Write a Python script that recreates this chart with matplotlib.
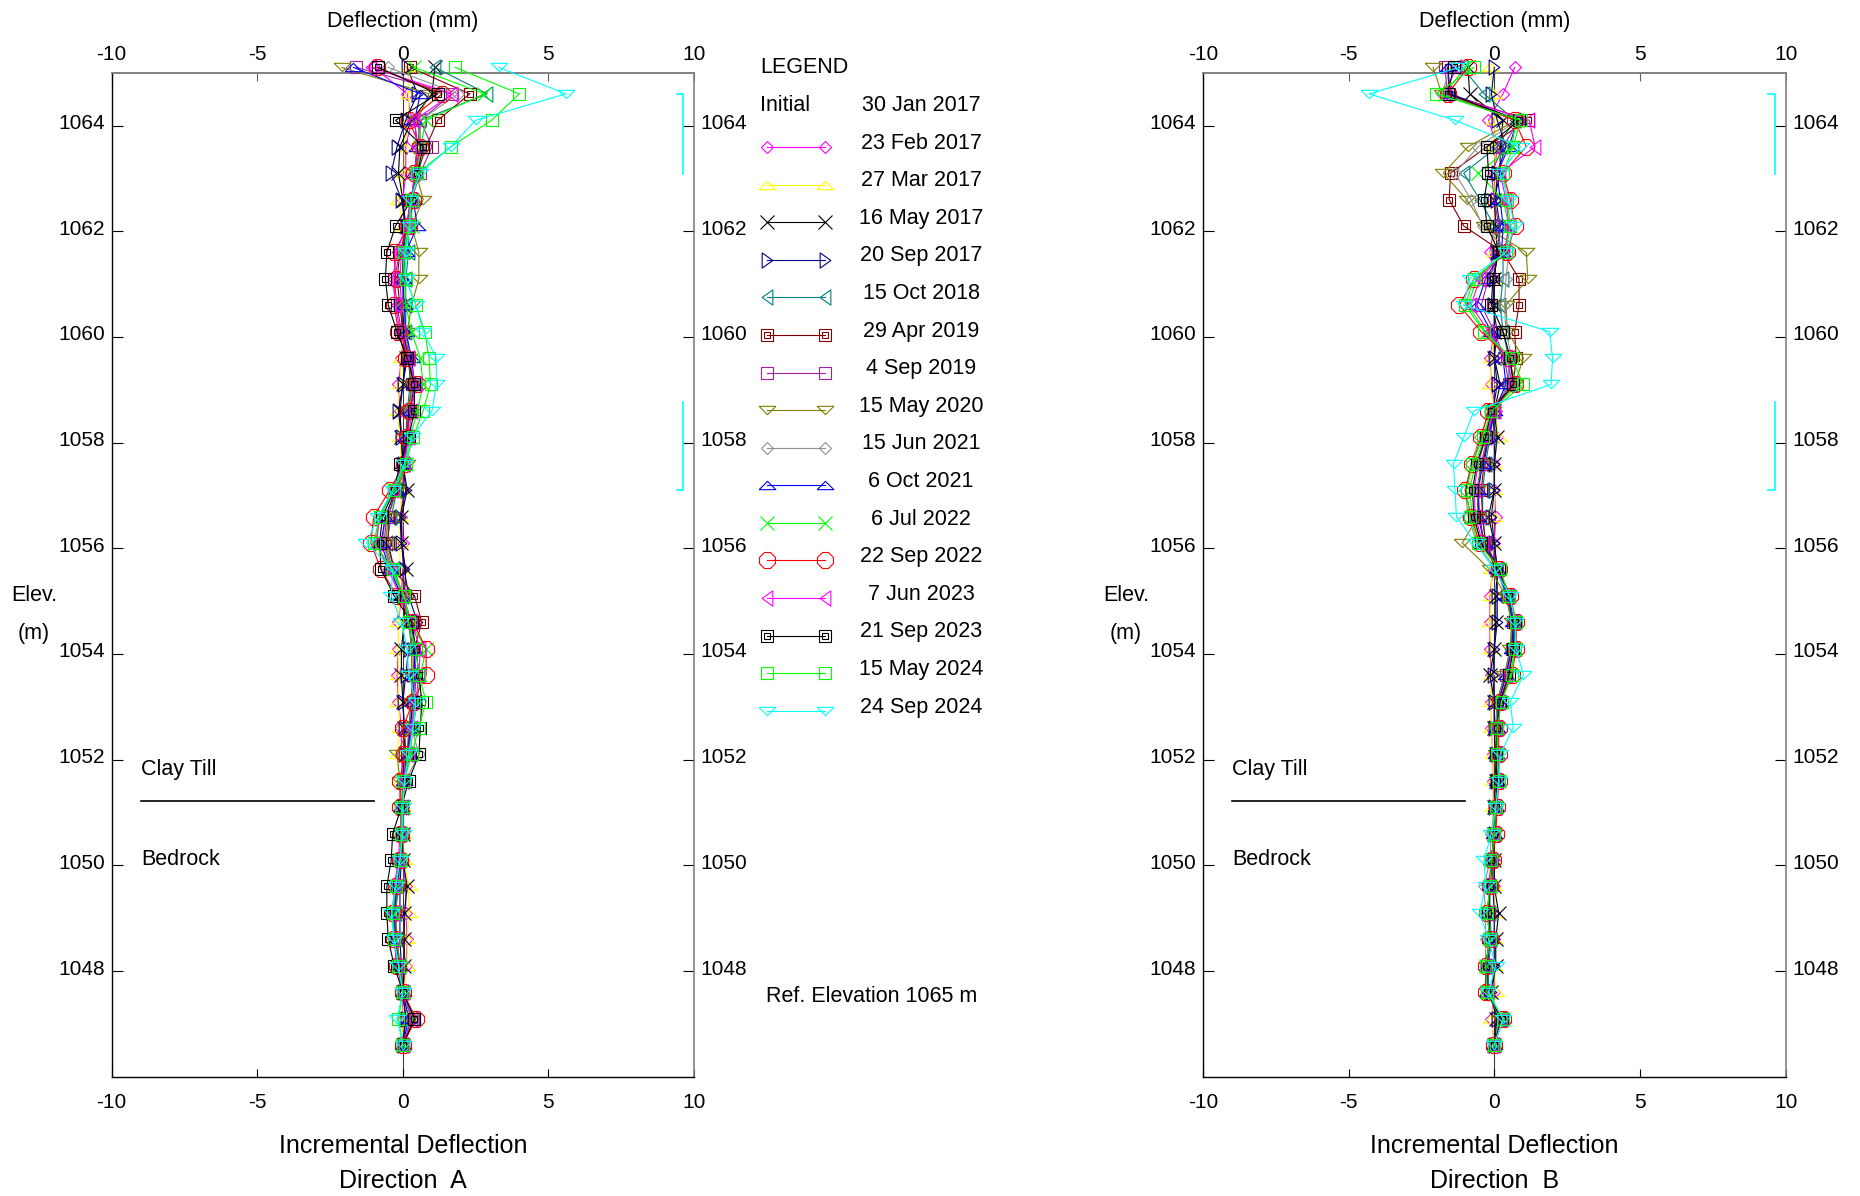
import matplotlib
matplotlib.use('Agg')
import matplotlib.pyplot as plt
from matplotlib.lines import Line2D
from matplotlib.transforms import ScaledTranslation

plt.rcParams['font.family'] = ['Liberation Sans', 'DejaVu Sans']

W, H = 1860, 1196

# reading elevations (m), top to bottom
ELEV = [1065.1, 1064.6, 1064.1, 1063.6, 1063.1, 1062.6, 1062.1, 1061.6, 1061.1, 1060.6,
        1060.1, 1059.6, 1059.1, 1058.6, 1058.1, 1057.6, 1057.1, 1056.6, 1056.1, 1055.6,
        1055.1, 1054.6, 1054.1, 1053.6, 1053.1, 1052.6, 1052.1, 1051.6, 1051.1, 1050.6,
        1050.1, 1049.6, 1049.1, 1048.6, 1048.1, 1047.6, 1047.1, 1046.6]

DATES = ['23 Feb 2017', '27 Mar 2017', '16 May 2017', '20 Sep 2017', '15 Oct 2018',
         '29 Apr 2019', '4 Sep 2019', '15 May 2020', '15 Jun 2021', '6 Oct 2021',
         '6 Jul 2022', '22 Sep 2022', '7 Jun 2023', '21 Sep 2023', '15 May 2024',
         '24 Sep 2024']
COLORS = ['#ff00ff', '#ffff00', '#000000', '#000080', '#008080',
          '#800000', '#a020a0', '#808000', '#909090', '#0000ff',
          '#00ff00', '#ff0000', '#ff00ff', '#000000', '#00ff00', '#00ffff']
MARKERS = ['D', 'up', 'x', 'right', 'left', 's', 's', 'down', 'D', 'up', 'x', '8',
           'left', 's', 's', 'down']
DOUBLE_SQUARE = ['29 Apr 2019', '21 Sep 2023']

XTICKS = [-10, -5, 0, 5, 10]
YTICKS = [1048, 1050, 1052, 1054, 1056, 1058, 1060, 1062, 1064]

# Direction A incremental deflection (mm)
a_feb17 = [-1.0, 0.15, 0.3, 0.1, 0.1, 0.0, 0.05, -0.05, -0.1, -0.05,
           0.0, -0.05, -0.15, -0.1, -0.05, 0.0, 0.0, -0.05, 0.0, 0.0,
           -0.05, -0.15, -0.15, -0.2, -0.15, -0.05, -0.05, 0.0, 0.0, 0.0,
           0.0, 0.1, 0.1, 0.15, 0.1, 0.0, 0.0, 0.0]
a_mar17 = [0.2, 0.2, 0.2, 0.05, 0.05, -0.15, 0.0, 0.0, 0.0, 0.0,
           0.0, -0.05, -0.1, -0.2, -0.1, -0.05, -0.05, -0.1, -0.1, -0.1,
           -0.1, -0.15, -0.15, -0.15, -0.15, -0.1, -0.2, -0.1, 0.0, 0.0,
           0.05, 0.2, 0.2, 0.15, 0.15, 0.05, 0.0, 0.0]
a_may17 = [1.1, 1.0, 0.3, -0.1, -0.15, 0.0, 0.1, 0.0, 0.0, 0.0,
           0.0, 0.1, 0.0, -0.1, -0.05, 0.0, 0.15, -0.05, -0.05, 0.1,
           0.05, 0.05, -0.05, -0.05, 0.0, 0.05, 0.1, 0.05, 0.0, 0.0,
           0.0, 0.15, 0.05, 0.05, 0.05, 0.0, 0.1, 0.0]
a_sep17 = [0.15, 0.5, 0.1, -0.2, -0.4, -0.05, 0.1, 0.05, 0.0, 0.0,
           0.05, 0.15, 0.0, -0.15, -0.05, 0.0, 0.1, -0.1, -0.05, 0.05,
           0.2, 0.5, 0.2, 0.1, 0.0, 0.05, 0.05, 0.0, 0.0, 0.0,
           -0.05, -0.1, -0.1, -0.1, -0.05, 0.0, 0.1, 0.0]
a_oct18 = [1.1, 2.9, 0.6, 0.5, 0.4, 0.3, 0.2, 0.2, 0.1, 0.1,
           0.1, 0.2, 0.25, 0.15, 0.1, 0.05, -0.2, -0.4, -0.55, -0.3,
           0.0, 0.2, 0.3, 0.3, 0.3, 0.2, 0.15, 0.05, 0.0, -0.05,
           -0.1, -0.15, -0.25, -0.2, -0.1, 0.0, 0.3, 0.0]
a_apr19 = [0.25, 2.3, 1.2, 0.8, 0.5, 0.25, 0.15, -0.1, -0.2, -0.1,
           0.0, 0.2, 0.3, 0.2, 0.1, 0.0, -0.25, -0.5, -0.5, -0.3,
           0.4, 0.65, 0.4, 0.35, 0.35, 0.25, 0.15, 0.05, -0.05, -0.05,
           -0.1, -0.2, -0.3, -0.25, -0.15, 0.0, 0.4, 0.0]
a_sep19 = [-1.6, 1.7, 0.6, 1.0, 0.6, 0.3, 0.2, -0.1, -0.3, -0.2,
           -0.05, 0.15, 0.35, 0.25, 0.15, 0.0, -0.3, -0.55, -0.65, -0.4,
           0.0, 0.3, 0.4, 0.45, 0.4, 0.3, 0.2, 0.05, -0.05, -0.05,
           -0.1, -0.25, -0.3, -0.25, -0.15, 0.0, 0.35, 0.0]
a_may20 = [-2.1, 0.9, 0.5, 0.6, 0.45, 0.7, 0.3, 0.55, 0.55, 0.3,
           0.15, 0.2, 0.3, 0.2, 0.1, 0.15, -0.2, -0.5, -0.6, -0.35,
           0.0, 0.25, 0.3, 0.3, 0.3, 0.2, -0.2, -0.1, -0.05, 0.0,
           -0.1, -0.2, -0.25, -0.2, -0.1, 0.0, 0.2, 0.0]
a_jun21 = [-0.5, 1.9, 0.6, 0.6, 0.5, 0.35, 0.25, 0.05, 0.0, 0.0,
           0.1, 0.25, 0.35, 0.25, 0.1, 0.0, -0.25, -0.6, -0.7, -0.4,
           0.0, 0.3, 0.35, 0.35, 0.4, 0.3, 0.55, 0.1, -0.05, -0.05,
           -0.1, -0.2, -0.3, -0.25, -0.15, 0.0, 0.3, 0.0]
a_oct21 = [-1.7, 0.6, 0.4, 0.5, 0.4, 0.35, 0.5, 0.1, 0.0, 0.05,
           0.1, 0.3, 0.4, 0.25, 0.1, 0.0, -0.25, -0.6, -0.75, -0.45,
           -0.05, 0.3, 0.4, 0.4, 0.35, 0.25, 0.2, 0.05, -0.05, -0.05,
           -0.1, -0.2, -0.3, -0.25, -0.15, 0.0, 0.2, 0.0]
a_jul22 = [0.4, 2.8, 0.8, 0.6, 0.5, 0.3, 0.3, 0.0, 0.05, 0.1,
           0.3, 0.6, 0.7, 0.5, 0.25, 0.1, -0.3, -0.8, -0.95, -0.4,
           0.05, 0.25, 0.8, 0.6, 0.5, 0.35, 0.25, 0.05, 0.0, -0.05,
           -0.1, -0.25, -0.35, -0.3, -0.15, 0.0, 0.35, 0.0]
a_sep22 = [-0.9, 1.35, 0.2, 0.6, 0.4, 0.35, 0.2, -0.3, -0.25, -0.3,
           -0.15, 0.1, 0.5, 0.2, 0.15, 0.05, -0.45, -1.0, -1.1, -0.75,
           -0.2, 0.35, 0.8, 0.8, 0.35, 0.0, 0.05, -0.1, -0.1, -0.05,
           -0.1, -0.25, -0.35, -0.3, -0.2, 0.0, 0.45, 0.0]
a_jun23 = [-1.1, 1.7, 0.4, 0.5, 0.4, 0.3, 0.1, -0.2, -0.35, -0.25,
           -0.1, 0.2, 0.45, 0.3, 0.2, 0.05, -0.35, -0.8, -0.9, -0.5,
           -0.1, 0.3, 0.6, 0.55, 0.45, 0.3, 0.2, 0.0, -0.05, -0.1,
           -0.15, -0.3, -0.35, -0.3, -0.2, 0.0, 0.3, 0.0]
a_sep23 = [-0.85, 1.2, -0.25, 0.7, 0.5, 0.3, -0.25, -0.55, -0.6, -0.5,
           -0.2, 0.15, 0.4, 0.4, 0.2, -0.1, -0.3, -0.7, -0.8, -0.75,
           -0.3, 0.3, 0.45, 0.55, 0.65, 0.6, 0.55, 0.2, -0.05, -0.35,
           -0.4, -0.55, -0.55, -0.5, -0.3, 0.0, 0.4, 0.0]
a_may24 = [1.8, 4.0, 3.05, 1.65, 0.5, 0.3, 0.2, 0.05, 0.1, 0.45,
           0.75, 0.9, 0.95, 0.7, 0.35, 0.1, -0.3, -0.8, -1.0, -0.35,
           0.05, 0.2, 0.45, 0.55, 0.8, 0.55, 0.3, 0.05, -0.05, -0.05,
           -0.1, -0.25, -0.35, -0.3, -0.15, 0.0, -0.15, 0.0]
a_sep24 = [3.3, 5.6, 2.5, 1.65, 0.6, 0.25, 0.25, 0.1, 0.1, 0.45,
           0.7, 1.15, 1.15, 1.0, 0.3, 0.05, -0.35, -0.85, -1.25, -0.35,
           -0.4, -0.05, 0.15, 0.2, 0.45, 0.35, 0.2, 0.05, 0.0, 0.0,
           -0.1, -0.25, -0.4, -0.3, -0.15, 0.0, -0.2, 0.0]

# Direction B incremental deflection (mm)
b_feb17 = [0.7, 0.3, -0.2, 0.1, 0.0, 0.05, 0.0, -0.15, 0.0, 0.0,
           0.0, -0.15, -0.1, 0.05, 0.1, 0.0, 0.0, 0.05, 0.0, -0.05,
           -0.15, -0.15, -0.15, -0.1, -0.1, -0.1, -0.05, -0.05, 0.0, 0.0,
           0.0, 0.0, 0.0, 0.0, 0.0, 0.0, -0.1, 0.0]
b_mar17 = [-0.15, 0.0, 0.0, 0.0, 0.05, 0.0, 0.0, 0.0, 0.0, 0.0,
           0.0, -0.1, -0.15, 0.0, 0.15, -0.05, 0.0, 0.0, -0.1, -0.1,
           -0.1, -0.15, -0.1, -0.1, -0.1, -0.1, -0.05, -0.05, -0.05, -0.05,
           -0.05, 0.0, 0.0, 0.0, 0.0, 0.05, -0.1, 0.0]
b_may17 = [-0.9, -0.85, 0.3, 0.2, 0.2, 0.0, 0.05, 0.1, 0.0, 0.0,
           0.0, 0.0, 0.2, 0.0, 0.1, 0.0, 0.0, -0.2, 0.0, 0.1,
           0.05, 0.05, 0.0, -0.15, 0.0, 0.0, 0.05, 0.05, 0.0, 0.0,
           0.0, 0.0, 0.15, 0.05, 0.05, -0.1, 0.05, 0.0]
b_sep17 = [0.0, -0.1, 0.1, 0.4, 0.1, 0.05, 0.2, 0.1, 0.0, -0.05,
           0.1, 0.0, 0.1, -0.05, 0.0, 0.0, 0.0, -0.1, 0.0, 0.1,
           0.1, 0.1, 0.0, -0.05, 0.0, 0.0, 0.05, 0.05, 0.0, 0.0,
           -0.05, -0.05, 0.0, 0.0, 0.0, -0.1, 0.1, 0.0]
b_oct18 = [-1.1, -0.35, 0.7, 0.1, -1.05, -0.5, 0.0, 0.3, 0.3, 0.2,
           0.3, 0.5, 0.5, 0.0, -0.15, -0.3, -0.4, -0.4, -0.3, 0.1,
           0.4, 0.6, 0.55, 0.35, 0.1, 0.05, 0.05, 0.1, 0.05, 0.0,
           -0.1, -0.15, -0.15, -0.1, -0.2, -0.2, 0.2, 0.0]
b_apr19 = [-1.6, -1.55, 1.15, -0.25, -1.5, -1.55, -1.05, 0.3, 0.85, 0.85,
           0.7, 0.75, 0.65, 0.0, -0.2, -0.35, -0.45, -0.4, -0.3, 0.15,
           0.45, 0.65, 0.6, 0.4, 0.15, 0.05, 0.05, 0.1, 0.05, 0.0,
           -0.1, -0.15, -0.2, -0.15, -0.25, -0.25, 0.25, 0.0]
b_sep19 = [-1.7, -1.6, 0.85, 0.3, -0.1, 0.0, 0.15, 0.2, -0.2, -0.45,
           0.0, 0.35, 0.5, 0.0, -0.2, -0.45, -0.55, -0.5, -0.35, 0.1,
           0.45, 0.65, 0.6, 0.4, 0.15, 0.05, 0.05, 0.1, 0.05, 0.0,
           -0.1, -0.15, -0.2, -0.15, -0.25, -0.25, 0.25, 0.0]
b_may20 = [-2.1, -1.8, 0.75, -0.9, -1.75, -0.95, -0.35, 1.1, 1.15, 0.4,
           0.45, 1.0, 0.7, -0.05, -0.25, -0.45, -0.6, -0.55, -1.1, -0.15,
           0.4, 0.6, 0.55, 0.35, 0.1, 0.05, 0.05, 0.1, 0.05, 0.0,
           -0.1, -0.15, -0.2, -0.15, -0.25, -0.25, 0.2, 0.0]
b_jun21 = [-1.5, -1.8, 0.8, -0.55, -1.35, -0.8, -0.4, 0.5, 0.4, 0.35,
           0.4, 0.6, 0.55, -0.15, -0.5, -0.8, -1.0, -0.9, -0.6, 0.05,
           0.45, 0.65, 0.6, 0.4, 0.15, 0.05, 0.05, 0.1, 0.0, -0.1,
           -0.15, -0.35, -0.3, -0.3, -0.3, -0.25, 0.25, 0.0]
b_oct21 = [-1.6, -1.5, 0.8, 0.5, 0.1, 0.2, 0.3, 0.25, -0.3, -0.6,
           -0.1, 0.3, 0.4, 0.0, -0.2, -0.4, -0.55, -0.55, -0.35, 0.1,
           0.45, 0.65, 0.6, 0.4, 0.15, 0.1, 0.05, 0.1, 0.05, 0.0,
           -0.1, -0.15, -0.2, -0.15, -0.25, -0.25, 0.25, 0.0]
b_jul22 = [-1.0, -1.7, 0.75, 0.6, -0.55, 0.3, 0.5, 0.35, -0.6, -0.9,
           -0.3, 0.45, 0.8, -0.1, -0.35, -0.65, -0.85, -0.75, -0.45, 0.15,
           0.5, 0.7, 0.7, 0.55, 0.2, 0.1, 0.1, 0.15, 0.05, 0.0,
           -0.1, -0.15, -0.2, -0.15, -0.3, -0.25, 0.3, 0.0]
b_sep22 = [-0.9, -1.6, 0.7, 1.1, 0.3, 0.55, 0.7, 0.45, -0.7, -1.2,
           -0.45, 0.5, 0.7, -0.2, -0.45, -0.75, -1.0, -0.8, -0.5, 0.15,
           0.55, 0.75, 0.75, 0.6, 0.2, 0.15, 0.15, 0.15, 0.1, 0.05,
           -0.05, -0.15, -0.25, -0.15, -0.3, -0.3, 0.3, 0.0]
b_jun23 = [-1.3, -1.7, 1.2, 1.4, 0.2, 0.4, 0.5, 0.35, -0.5, -0.8,
           -0.2, 0.45, 0.6, 0.0, -0.3, -0.55, -0.7, -0.65, -0.4, 0.1,
           0.5, 0.7, 0.65, 0.45, 0.2, 0.1, 0.05, 0.1, 0.05, 0.0,
           -0.1, -0.2, -0.2, -0.15, -0.3, -0.25, 0.25, 0.0]
b_sep23 = [-1.4, -1.6, 0.85, -0.25, -0.2, -0.35, -0.25, 0.15, -0.05, -0.1,
           0.3, 0.55, 0.65, -0.1, -0.3, -0.6, -0.75, -0.7, -0.45, 0.15,
           0.5, 0.7, 0.65, 0.5, 0.2, 0.1, 0.05, 0.1, 0.05, 0.0,
           -0.1, -0.15, -0.2, -0.15, -0.3, -0.25, 0.25, 0.0]
b_may24 = [-0.7, -2.0, 0.9, 0.65, 0.3, 0.45, 0.55, 0.4, -0.7, -1.0,
           -0.35, 0.6, 1.0, -0.1, -0.4, -0.75, -0.95, -0.85, -0.55, 0.2,
           0.5, 0.75, 0.7, 0.6, 0.25, 0.1, 0.1, 0.15, 0.05, 0.0,
           -0.1, -0.15, -0.25, -0.15, -0.3, -0.25, 0.3, 0.0]
b_sep24 = [-1.2, -4.3, -1.35, 0.9, 0.2, 0.5, 0.7, 0.4, -0.85, -1.05,
           1.9, 2.0, 1.95, -0.7, -1.05, -1.4, -1.35, -1.3, -0.65, 0.0,
           0.55, 0.7, 0.75, 1.0, 0.55, 0.65, 0.2, 0.15, 0.05, -0.1,
           -0.35, -0.3, -0.5, -0.2, 0.05, -0.2, 0.3, 0.0]

DIR_A = [a_feb17, a_mar17, a_may17, a_sep17, a_oct18, a_apr19, a_sep19, a_may20,
         a_jun21, a_oct21, a_jul22, a_sep22, a_jun23, a_sep23, a_may24, a_sep24]
DIR_B = [b_feb17, b_mar17, b_may17, b_sep17, b_oct18, b_apr19, b_sep19, b_may20,
         b_jun21, b_oct21, b_jul22, b_sep22, b_jun23, b_sep23, b_may24, b_sep24]

# flat / narrow triangles like the inclinometer software draws them
MARKER_SHAPES = {
    'up': [(-1, -0.5), (1, -0.5), (0, 0.5), (-1, -0.5)],
    'down': [(-1, 0.5), (1, 0.5), (0, -0.5), (-1, 0.5)],
    'left': [(0.7, 1), (0.7, -1), (-0.7, 0), (0.7, 1)],
    'right': [(-0.7, 1), (-0.7, -1), (0.7, 0), (-0.7, 1)],
}
MS = {'D': 6.5, 'up': 12, 'down': 12, 'left': 11, 'right': 11, 'x': 9.5, 's': 8.5, '8': 13}


def mstyle(mk, col):
    return dict(marker=MARKER_SHAPES.get(mk, mk), ms=MS[mk], mfc='none', mec=col, mew=0.8)


def fx(px):
    return px / W


def fy(py):
    return 1 - py / H


def draw_panel(ax, series, letter, zero_px):
    ax.set_xlim(-10, 10)
    ax.set_ylim(1046, 1065)
    ax.axvline(0, color='#404040', lw=0.8, zorder=1)
    for vals, date, col, mk in zip(series, DATES, COLORS, MARKERS):
        ax.plot(vals, ELEV, color=col, lw=0.8, clip_on=False, zorder=3, **mstyle(mk, col))
        if date in DOUBLE_SQUARE:
            ax.plot(vals, ELEV, ls='none', marker='s', ms=4, mfc='none',
                    mec=col, mew=0.8, clip_on=False, zorder=3)

    # cyan zone brackets by the right axis
    ax.plot([9.4, 9.62, 9.62], [1064.59, 1064.59, 1063.09], color='#00ffff', lw=1.2)
    ax.plot([9.62, 9.62, 9.4], [1058.77, 1057.1, 1057.1], color='#00ffff', lw=1.2)

    # soil contact
    ax.plot([-9.0, -1.0], [1051.21, 1051.21], color='black', lw=1.2)
    ax.text(-9.0, 1051.70, 'Clay Till', fontsize=15.5, va='baseline')
    ax.text(-9.0, 1050.0, 'Bedrock', fontsize=15.5, va='baseline')

    ax.set_xticks(XTICKS)
    ax.set_xticklabels(['-10', '-5', '0', '5', '10'])
    ax.set_yticks(YTICKS)
    ax.tick_params(axis='x', direction='in', length=6, width=0.8, top=False,
                   bottom=True, labelsize=15, pad=12)
    ax.tick_params(axis='y', direction='in', length=8, width=0.8, left=True,
                   right=True, labelleft=True, labelright=True, labelsize=15, pad=4.8)
    lift = ScaledTranslation(0, 0.04, fig.dpi_scale_trans)
    for tick in ax.yaxis.get_major_ticks():
        tick.label1.set_transform(tick.label1.get_transform() + lift)
        tick.label2.set_transform(tick.label2.get_transform() + lift)
    sec = ax.secondary_xaxis('top')
    sec.set_xticks(XTICKS)
    sec.set_xticklabels(['-10', '-5', '0', '5', '10'])
    sec.tick_params(direction='in', length=6, width=0.8, labelsize=15, pad=6,
                    color='#606060')
    sec.spines['top'].set_color('#808080')
    sec.spines['top'].set_linewidth(1.2)
    for side in ['left', 'bottom']:
        ax.spines[side].set_color('black')
        ax.spines[side].set_linewidth(1.0)
    for side in ['top', 'right']:
        ax.spines[side].set_color('#808080')
        ax.spines[side].set_linewidth(1.2)

    fig.text(fx(zero_px), fy(26.7), 'Deflection (mm)', ha='center', va='baseline',
             fontsize=15.5)
    fig.text(fx(zero_px), fy(1153.3), 'Incremental Deflection', ha='center',
             va='baseline', fontsize=18)
    fig.text(fx(zero_px), fy(1188.5), 'Direction  ' + letter, ha='center',
             va='baseline', fontsize=18)


fig = plt.figure(figsize=(W / 100, H / 100), dpi=100, facecolor='white')
ax1 = fig.add_axes([fx(111.7), fy(1076.7), (694 - 111.7) / W, (1076.7 - 72.7) / H])
ax2 = fig.add_axes([fx(1203), fy(1076.7), (1785.6 - 1203) / W, (1076.7 - 72.7) / H])

draw_panel(ax1, DIR_A, 'A', 403)
draw_panel(ax2, DIR_B, 'B', 1494.3)

for cx in [34, 1126]:
    fig.text(fx(cx), fy(600.7), 'Elev.', ha='center', va='baseline', fontsize=15.5)
    fig.text(fx(cx), fy(638.7), '(m)', ha='center', va='baseline', fontsize=15.5)

# legend column between the panels
fig.text(fx(760), fy(72.7), 'LEGEND', va='baseline', fontsize=15.5)
fig.text(fx(760), fy(111), 'Initial', va='baseline', fontsize=15.5)
fig.text(fx(921), fy(111), '30 Jan 2017', ha='center', va='baseline', fontsize=15.5)
for k, (date, col, mk) in enumerate(zip(DATES, COLORS, MARKERS), start=1):
    yc = 103.3 + 37.6 * k
    fig.add_artist(Line2D([fx(766.7), fx(825)], [fy(yc + 6), fy(yc + 6)], color=col,
                          lw=0.8, **mstyle(mk, col)))
    if date in DOUBLE_SQUARE:
        fig.add_artist(Line2D([fx(766.7), fx(825)], [fy(yc + 6), fy(yc + 6)], ls='none',
                              marker='s', ms=4, mfc='none', mec=col, mew=0.8))
    fig.text(fx(921), fy(yc + 7.7), date, ha='center', va='baseline', fontsize=15.5)

fig.text(fx(766), fy(1001.7), 'Ref. Elevation 1065 m', va='baseline', fontsize=15.5)

fig.savefig('out.png', dpi=100, facecolor='white')
